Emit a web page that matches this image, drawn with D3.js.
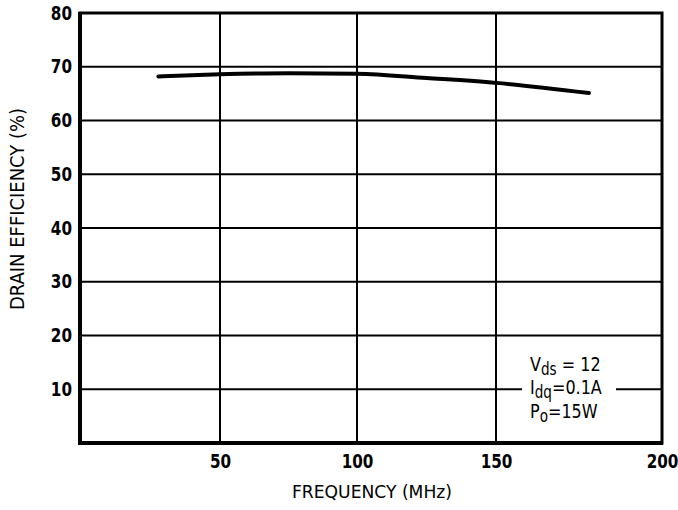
<!DOCTYPE html>
<html>
<head>
<meta charset="utf-8">
<script src="https://cdn.jsdelivr.net/npm/d3@7"></script>
<style>
  body { margin: 0; background: #fff; }
  text { font-family: "DejaVu Sans", sans-serif; }
</style>
</head>
<body>
<div id="chart"></div>
<script>
// data
const freq = [28, 50, 75, 100, 125, 150, 178];
const efficiency = [68.2, 68.6, 68.8, 68.7, 67.9, 67.0, 65.1];
const xTicks = [50, 100, 150, 200];
const yTicks = [10, 20, 30, 40, 50, 60, 70, 80];
const notes = ["V", "I", "P"];

const width = 678, height = 510;
const plot = { left: 80, right: 662, top: 13, bottom: 443 };
const squeeze = "scale(0.8,1)"; // no condensed face installed, so narrow the glyphs

const svg = d3.select("#chart").append("svg").attr("width", width).attr("height", height);

// the original paper axis is not evenly spaced, so follow its tick positions
const xScale = d3.scaleLinear()
  .domain([0, 50, 100, 150, 200])
  .range([plot.left, 220, 357, 496, plot.right]);
const yScale = d3.scaleLinear().domain([0, 80]).range([plot.bottom, plot.top]);

// grid
svg.append("g")
  .selectAll("line")
  .data(yTicks.slice(0, -1))
  .enter().append("line")
  .attr("x1", plot.left).attr("x2", plot.right)
  .attr("y1", d => yScale(d)).attr("y2", d => yScale(d))
  .attr("stroke", "#000").attr("stroke-width", 2);

svg.append("g")
  .selectAll("line")
  .data(xTicks.slice(0, -1))
  .enter().append("line")
  .attr("x1", d => xScale(d)).attr("x2", d => xScale(d))
  .attr("y1", plot.top).attr("y2", plot.bottom)
  .attr("stroke", "#000").attr("stroke-width", 2);

// frame
svg.append("rect")
  .attr("x", plot.left).attr("y", plot.top)
  .attr("width", plot.right - plot.left).attr("height", plot.bottom - plot.top)
  .attr("fill", "none").attr("stroke", "#000").attr("stroke-width", 3);
svg.append("line").attr("x1", plot.left).attr("x2", plot.left).attr("y1", plot.top - 1).attr("y2", plot.bottom + 2)
  .attr("stroke", "#000").attr("stroke-width", 4);
svg.append("line").attr("x1", plot.left - 1).attr("x2", plot.right + 1).attr("y1", plot.bottom).attr("y2", plot.bottom)
  .attr("stroke", "#000").attr("stroke-width", 4);

// axes (labels only)
const ax = svg.append("g")
  .attr("transform", "translate(0," + plot.bottom + ")")
  .call(d3.axisBottom(xScale).tickValues(xTicks).tickSize(0).tickPadding(12));
const ay = svg.append("g")
  .attr("transform", "translate(" + plot.left + ",0)")
  .call(d3.axisLeft(yScale).tickValues(yTicks).tickSize(0).tickPadding(10));
[ax, ay].forEach(g => {
  g.select(".domain").remove();
  g.selectAll("text")
    .attr("fill", "#000")
    .attr("font-size", "19px")
    .attr("font-weight", "bold")
    .attr("transform", squeeze)
    .style("font-family", "'DejaVu Sans', sans-serif");
});

svg.append("text")
  .attr("x", 372).attr("y", 498)
  .attr("text-anchor", "middle")
  .attr("font-size", "18px")
  .attr("textLength", 160)
  .attr("lengthAdjust", "spacingAndGlyphs")
  .text("FREQUENCY  (MHz)");

svg.append("text")
  .attr("transform", "translate(24,209) rotate(-90)")
  .attr("text-anchor", "middle")
  .attr("font-size", "19px")
  .attr("textLength", 202)
  .attr("lengthAdjust", "spacingAndGlyphs")
  .text("DRAIN EFFICIENCY (%)");

// curve
svg.append("path")
  .datum(d3.zip(freq, efficiency))
  .attr("fill", "none")
  .attr("stroke", "#000")
  .attr("stroke-width", 4)
  .attr("stroke-linecap", "round")
  .attr("d", d3.line()
    .x(d => xScale(d[0]))
    .y(d => yScale(d[1]))
    .curve(d3.curveMonotoneX));

// conditions note
const note = svg.append("g");
note.append("rect").attr("x", 522).attr("y", 381).attr("width", 94).attr("height", 20).attr("fill", "#fff");
const lines = [
  { y: 371, main: notes[0], sub: "ds", rest: " = 12" },
  { y: 394, main: notes[1], sub: "dq", rest: "=0.1A" },
  { y: 418, main: notes[2], sub: "o", rest: "=15W" }
];
lines.forEach(l => {
  const t = note.append("text")
    .attr("transform", "translate(530," + l.y + ") " + squeeze)
    .attr("font-size", "20px");
  t.append("tspan").text(l.main);
  t.append("tspan").attr("dy", 4).attr("font-size", "17px").text(l.sub);
  t.append("tspan").attr("dy", -4).text(l.rest);
});
</script>
</body>
</html>
